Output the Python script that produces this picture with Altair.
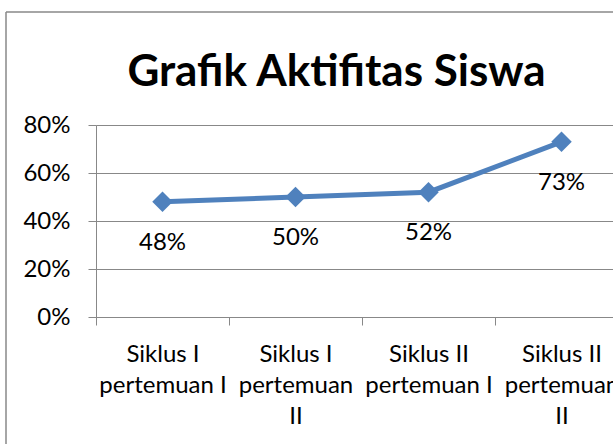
import altair as alt
import pandas as pd

categories = ["Siklus I|pertemuan I", "Siklus I|pertemuan|II",
              "Siklus II|pertemuan I", "Siklus II|pertemuan|II"]
values = [0.48, 0.50, 0.52, 0.73]
y_ticks = [0, 0.2, 0.4, 0.6, 0.8]
title_text = "Grafik Aktifitas Siswa"

df = pd.DataFrame({"kategori": categories, "nilai": values})

FONT = "Lato"
GRAY = "#888888"
BLUE = "#4F81BD"

x_enc = alt.X("kategori:N", sort=categories, title=None,
              scale=alt.Scale(range=[0, 532], paddingInner=0, paddingOuter=0),
              axis=alt.Axis(labelExpr="split(datum.label, '|')", labelAngle=0,
                            labelFontSize=24, labelFont=FONT, labelColor="black",
                            labelLineHeight=31, labelPadding=17, labelBaseline="top",
                            tickBand="extent", tickSize=8, tickColor=GRAY,
                            domainColor=GRAY, grid=False, labelLimit=200))
y_enc = alt.Y("nilai:Q", title=None,
              scale=alt.Scale(domain=[0, 0.8], nice=False),
              axis=alt.Axis(values=y_ticks, format=".0%", labelFontSize=24,
                            labelFont=FONT, labelColor="black", labelPadding=18,
                            tickSize=8, tickColor=GRAY, domainColor=GRAY,
                            gridColor=GRAY, gridWidth=1))

base = alt.Chart(df)
line = base.mark_line(color=BLUE, strokeWidth=5).encode(x=x_enc, y=y_enc)
pts = base.mark_point(shape="diamond", filled=True, size=420, color=BLUE,
                      opacity=1).encode(x=x_enc, y=y_enc)
txt = base.mark_text(dy=41, fontSize=24, font=FONT, color="black").encode(
    x=x_enc, y=y_enc, text=alt.Text("nilai:Q", format=".0%"))

border_data = alt.Data(values=[{"a": 1}])
left_border = alt.Chart(border_data).mark_rule(color=GRAY, strokeWidth=1.5).encode(
    x=alt.value(-90), y=alt.value(-113), y2=alt.value(330))
top_border = alt.Chart(border_data).mark_rule(color=GRAY, strokeWidth=1.5).encode(
    x=alt.value(-90), x2=alt.value(530), y=alt.value(-113))

chart = alt.layer(left_border, top_border, line, pts, txt).properties(
    width=517, height=192,
    padding={"left": 96, "top": 125, "right": 0, "bottom": 127},
    autosize=alt.AutoSizeParams(type="none"),
    title=alt.TitleParams(title_text, font=FONT, fontSize=44, fontWeight="bold",
                          color="black", anchor="middle", dx=-18, offset=-119,
                          baseline="alphabetic"),
).configure_view(stroke="transparent").configure(background="white")

chart.save("out.html", embed_options={"renderer": "svg", "actions": False})
